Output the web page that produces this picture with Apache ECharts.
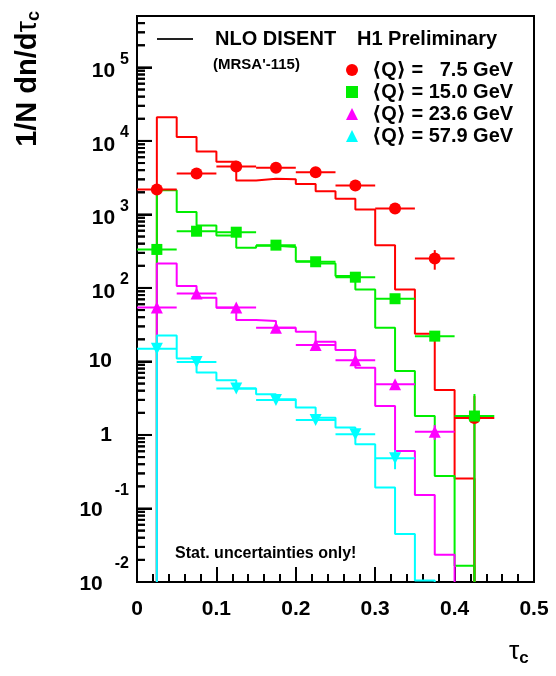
<!DOCTYPE html>
<html><head><meta charset="utf-8">
<script src="https://cdn.jsdelivr.net/npm/echarts@6/dist/echarts.min.js"></script>
<style>html,body{margin:0;padding:0;background:#fff}#c{width:556px;height:676px}</style>
</head><body><div id="c"></div>
<script>
// ---- data ----
const binEdges = [0.025,0.05,0.075,0.1,0.125,0.15,0.175,0.2,0.225,0.25,0.275,0.3,0.325,0.35,0.375,0.4,0.425];
const nloQ75  = [20900, 11300, 7200, 5200, 2890, 3050, 3000, 2600, 2070, 1630, 1170, 382, 95, 23.9, 4.1, 0.256];
const nloQ150 = [2130, 1080, 707, 517, 352, 375, 361, 231, 215, 145, 95.5, 28.8, 7.4, 1.81, 0.277, 0.0166];
const nloQ236 = [215, 106, 73.6, 53.8, 36.5, 35.4, 28.8, 25.4, 18.6, 14.3, 8.24, 2.48, 0.606, 0.153, 0.0234];
const nloQ579 = [22.6, 11.0, 7.05, 5.54, 4.27, 3.57, 3.05, 2.36, 1.72, 1.26, 0.748, 0.193, 0.0448, 0.0105];

const pointX = [0.025, 0.075, 0.125, 0.175, 0.225, 0.275, 0.325, 0.375, 0.425];
const xHalfWidth = 0.025;
const dataQ75  = [2180, 3600, 4500, 4300, 3740, 2470, 1200, 252, 1.7];
const errQ75   = [60, 90, 110, 100, 90, 70, 60, 75, 1.7];
const dataQ150 = [334, 591, 573, 382, 227, 140, 71.3, 22.1, 1.81];
const errQ150  = [10, 15, 15, 10, 7, 5, 3, 1.5, 1.8];
const dataQ236 = [54, 84, 54, 28.8, 16.7, 10.4, 4.89, 1.11];
const errQ236  = [2, 3, 2, 1, 0.7, 0.5, 0.4, 0.25];
const dataQ579 = [14.9, 9.82, 4.27, 2.99, 1.6, 1.02, 0.482];
const errQ579  = [0.6, 0.4, 0.2, 0.15, 0.1, 0.08, 0.14];

const seriesNames = ['\u27E8Q\u27E9 =   7.5 GeV', '\u27E8Q\u27E9 = 15.0 GeV', '\u27E8Q\u27E9 = 23.6 GeV', '\u27E8Q\u27E9 = 57.9 GeV'];
const colors = ['#ff0000', '#00ee00', '#ff00ff', '#00ffff'];
const yMin = 0.01, yMax = 5e5;
const xMin = 0, xMax = 0.5, xInterval = 0.1;
const yMinorMult = [2,3,4,5,6,7,8,9];
const yDecades = [-2,-1,0,1,2,3,4,5];

// ---- helpers ----
function stepData(vals) {
  const pts = [[binEdges[0], yMin]];
  for (let i = 0; i < vals.length; i++) {
    pts.push([binEdges[i], vals[i]], [binEdges[i + 1], vals[i]]);
  }
  pts.push([binEdges[vals.length], yMin]);
  return pts;
}
function errData(vals, errs) {
  return vals.map((v, i) => [pointX[i], v, xHalfWidth, errs[i]]);
}
function errRender(params, api) {
  const x = api.value(0), y = api.value(1), ex = api.value(2), ey = api.value(3);
  const l = api.coord([x - ex, y]), r = api.coord([x + ex, y]);
  const t = api.coord([x, y + ey]), b = api.coord([x, Math.max(y - ey, yMin)]);
  const st = { stroke: api.visual('color'), lineWidth: 2 };
  return { type: 'group', children: [
    { type: 'line', shape: { x1: l[0], y1: l[1], x2: r[0], y2: r[1] }, style: st },
    { type: 'line', shape: { x1: t[0], y1: t[1], x2: b[0], y2: b[1] }, style: st }
  ]};
}
const minorTickValues = [];
yDecades.forEach(d => yMinorMult.forEach(m => {
  const v = m * Math.pow(10, d);
  if (v < yMax) minorTickValues.push(v);
}));
const majorTickValues = yDecades.map(d => Math.pow(10, d));

const FF = '"Liberation Sans", Arial, "DejaVu Sans", sans-serif';
const nlo = [nloQ75, nloQ150, nloQ236, nloQ579];
const pts = [dataQ75, dataQ150, dataQ236, dataQ579];
const errs = [errQ75, errQ150, errQ236, errQ579];
const symbols = ['circle', 'rect', 'triangle', 'triangle'];
const symSizes = [12, 11, 12, 12];
const symRot = [0, 0, 0, 180];

const series = [];
nlo.forEach((v, i) => series.push({
  type: 'line', data: stepData(v), symbol: 'none', z: 2, animation: false,
  lineStyle: { color: colors[i], width: 2 }, silent: true
}));
pts.forEach((v, i) => series.push({
  type: 'custom', data: errData(v, errs[i]), renderItem: errRender, z: 3 + i, animation: false,
  itemStyle: { color: colors[i] }, encode: { x: 0, y: 1 }, silent: true
}));
pts.forEach((v, i) => series.push({
  type: 'scatter', name: seriesNames[i], data: v.map((y, k) => [pointX[k], y]),
  symbol: symbols[i], symbolSize: symSizes[i], symbolRotate: symRot[i], z: 8 + i,
  itemStyle: { color: colors[i], opacity: 1 }, animation: false, silent: true
}));
// y-axis minor ticks (2..9 x 10^n), placed through the axis scale
series.push({
  type: 'custom', data: [[0.25, 1]], z: 7, silent: true,
  renderItem: (params, api) => ({ type: 'group', children: minorTickValues.map(v => {
    const p = api.coord([xMin, v]);
    return { type: 'line', shape: { x1: p[0], y1: p[1], x2: p[0] + 8, y2: p[1] }, style: { stroke: '#000', lineWidth: 2 } };
  }) })
});

const chart = echarts.init(document.getElementById('c'));
chart.setOption({
  backgroundColor: '#fff',
  animation: false,
  grid: { left: 137, right: 22, top: 16, bottom: 94, show: true, borderColor: '#000', borderWidth: 2 },
  xAxis: {
    type: 'value', min: xMin, max: xMax, interval: xInterval,
    axisLine: { show: true, lineStyle: { color: '#000', width: 2 } },
    axisTick: { show: true, inside: true, length: 15, lineStyle: { color: '#000', width: 2 } },
    minorTick: { show: true, splitNumber: 5, length: 8, lineStyle: { color: '#000', width: 2 } },
    splitLine: { show: false },
    axisLabel: { margin: 17, color: '#000', fontSize: 21, fontWeight: 'bold', fontFamily: FF,
      formatter: v => v === 0 ? '0' : v.toFixed(1) }
  },
  yAxis: {
    type: 'log', logBase: 10, min: yMin, max: yMax,
    axisLine: { show: true, lineStyle: { color: '#000', width: 2 } },
    axisTick: { show: true, inside: true, length: 15, lineStyle: { color: '#000', width: 2 } },
    splitLine: { show: false },
    axisLabel: {
      margin: 8, color: '#000', showMaxLabel: false,
      formatter: function (v) {
        const lg = Math.log10(v), n = Math.round(lg);
        if (Math.abs(lg - n) > 0.01) return '';
        if (n === 0) return '{m|1}';
        if (n === 1) return '{m|10}';
        if (n > 1) return '{b|10}{e|' + n + '}';
        return '{bn|10}{en|' + n + '}';
      },
      rich: {
        m: { fontSize: 21, fontWeight: 'bold', fontFamily: FF, color: '#000', padding: [0, 17, 0, 0] },
        b: { fontSize: 21, fontWeight: 'bold', fontFamily: FF, color: '#000', padding: [8, 0, 0, 0] },
        e: { fontSize: 16, fontWeight: 'bold', fontFamily: FF, color: '#000', padding: [0, 0, 16, 5] },
        bn: { fontSize: 21, fontWeight: 'bold', fontFamily: FF, color: '#000', padding: [4, 0, 0, 0] },
        en: { fontSize: 16, fontWeight: 'bold', fontFamily: FF, color: '#000', padding: [0, 0, 36, 12] }
      }
    }
  },
  legend: {
    data: seriesNames, orient: 'vertical', left: 346, top: 60, padding: 0,
    itemWidth: 12, itemHeight: 12, itemGap: 2, selectedMode: false,
    textStyle: { fontSize: 20, fontWeight: 'bold', fontFamily: FF, color: '#000', lineHeight: 20, padding: [0, 0, 0, 9] }
  },
  graphic: [
    { type: 'line', shape: { x1: 157, y1: 39, x2: 193, y2: 39 }, style: { stroke: '#222', lineWidth: 2 } },
    { type: 'text', x: 215, y: 39, style: { text: 'NLO DISENT', font: 'bold 20px ' + FF, fill: '#000', verticalAlign: 'middle' } },
    { type: 'text', x: 357, y: 39, style: { text: 'H1 Preliminary', font: 'bold 20px ' + FF, fill: '#000', verticalAlign: 'middle' } },
    { type: 'text', x: 213, y: 65, style: { text: "(MRSA'-115)", font: 'bold 15px ' + FF, fill: '#000', verticalAlign: 'middle' } },
    { type: 'text', x: 175, y: 554, style: { text: 'Stat. uncertainties only!', font: 'bold 16px ' + FF, fill: '#000', verticalAlign: 'middle' } },
    { type: 'text', x: 13, y: 11, rotation: Math.PI / 2, style: {
        text: '{a|1/N dn/d}{t|\u03C4}{c|c}', align: 'right', verticalAlign: 'top',
        rich: {
          a: { font: 'bold 29px ' + FF, fill: '#000', lineHeight: 30 },
          t: { font: '29px ' + FF, fill: '#000', lineHeight: 30 },
          c: { font: 'bold 18px ' + FF, fill: '#000', lineHeight: 30, padding: [12, 0, 0, 0] }
        } } },
    { type: 'text', x: 509, y: 652, style: {
        text: '{t|\u03C4}{c|c}', verticalAlign: 'middle',
        rich: {
          t: { font: '26px ' + FF, fill: '#000', lineHeight: 30 },
          c: { font: 'bold 17px ' + FF, fill: '#000', lineHeight: 30, padding: [12, 0, 0, 0] }
        } } }
  ],
  series: series
});

// extra y-axis tick marks placed through the axis scale (convertToPixel)
const tickGraphics = [];
const x0 = chart.convertToPixel({ xAxisIndex: 0 }, xMin);
majorTickValues.forEach(v => {
  const y = chart.convertToPixel({ yAxisIndex: 0 }, v);
  tickGraphics.push({ type: 'line', z: 50, shape: { x1: x0, y1: y, x2: x0 + 15, y2: y }, style: { stroke: '#000', lineWidth: 2 } });
});
minorTickValues.forEach(v => {
  const y = chart.convertToPixel({ yAxisIndex: 0 }, v);
  tickGraphics.push({ type: 'line', z: 50, shape: { x1: x0, y1: y, x2: x0 + 8, y2: y }, style: { stroke: '#000', lineWidth: 2 } });
});
const g = chart.getOption().graphic[0].elements.length;
chart.setOption({ graphic: tickGraphics.map((t, i) => Object.assign({ id: 'yt' + i }, t)) });
</script></body></html>
